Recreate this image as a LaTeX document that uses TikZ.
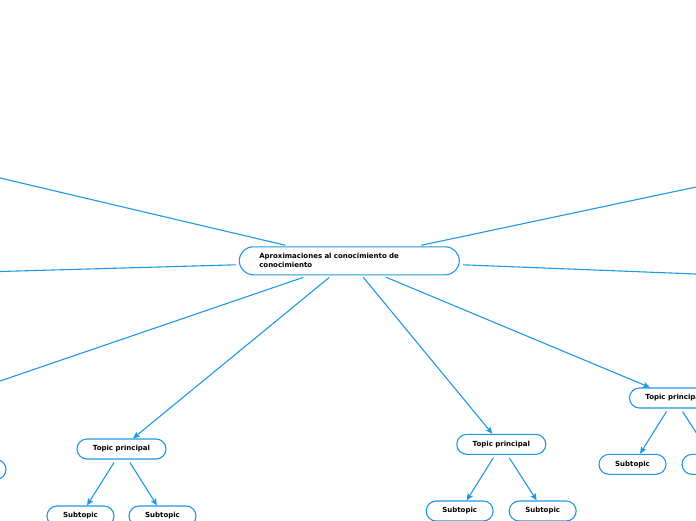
\documentclass[tikz,border=0pt]{standalone}
\usepackage{fontspec}
\setmainfont{DejaVu Sans}
\usepackage{tikz}
\usetikzlibrary{arrows.meta}
\definecolor{mapblue}{RGB}{30,152,226}

\begin{document}
\begin{tikzpicture}[x=1pt,y=-1pt,
    every node/.style={font=\fontsize{7}{9}\selectfont\bfseries},
    central/.style={draw=mapblue,line width=1.1pt,rounded corners=14pt,minimum width=220pt,minimum height=28pt,
      text width=180pt,inner xsep=20pt,align=left},
    topic/.style={draw=mapblue,line width=1.1pt,rounded corners=10pt,minimum width=89pt,minimum height=20pt,inner sep=0pt},
    subtopic/.style={topic,minimum width=67pt},
    link/.style={draw=mapblue,line width=1.1pt},
    arrowlink/.style={link,-{Stealth[length=7pt,width=6pt,inset=1.5pt]}}]
  \useasboundingbox (0,0) rectangle (696,520);
  \clip (0,0) rectangle (696,520);

  % Central topic
  \node[central] (aprox) at (349.3,260.8) {Aproximaciones al conocimiento de conocimiento};

  % Main topics
  \node[topic] (tpL) at (121.5,449) {Topic principal};
  \node[topic] (tpM) at (501.3,444.3) {Topic principal};
  \node[topic] (tpR) at (674,398) {Topic principal};

  % Subtopics
  \node[subtopic] (stX) at (-27.5,469.5) {};
  \node[subtopic] (stL1) at (80.5,516) {Subtopic};
  \node[subtopic] (stL2) at (162.5,516) {Subtopic};
  \node[subtopic] (stM1) at (459.7,511) {Subtopic};
  \node[subtopic] (stM2) at (542.7,511) {Subtopic};
  \node[subtopic] (stR1) at (632.5,464.3) {Subtopic};
  \node[subtopic] (stR2) at (715.5,464.3) {};

  % Branches leaving the frame
  \coordinate (e1) at (0,178);
  \coordinate (e2) at (0,271.5);
  \coordinate (e3) at (0,381);
  \coordinate (e5) at (696,187);
  \coordinate (e6) at (696,274);
  \draw[link] ([xshift=-64pt,yshift=1pt]aprox.north) -- (e1);
  \draw[link] ([xshift=-3pt,yshift=-4pt]aprox.west) -- (e2);
  \draw[link] ([xshift=-46pt,yshift=-2pt]aprox.south) -- (e3);
  \draw[link] ([xshift=72pt,yshift=1pt]aprox.north) -- (e5);
  \draw[link] ([xshift=3pt,yshift=-4pt]aprox.east) -- (e6);

  % Central to main topics
  \draw[arrowlink] ([xshift=-20pt,yshift=-2pt]aprox.south) -- ([xshift=11.5pt]tpL.north);
  \draw[arrowlink] ([xshift=14pt,yshift=-2pt]aprox.south) -- ([xshift=-9pt]tpM.north);
  \draw[arrowlink] ([xshift=37pt,yshift=-2pt]aprox.south) -- ([xshift=-24pt]tpR.north);

  % Main topics to subtopics
  \draw[arrowlink] ([xshift=-7.5pt,yshift=-3pt]tpL.south) -- ([xshift=6.5pt]stL1.north);
  \draw[arrowlink] ([xshift=8.5pt,yshift=-3pt]tpL.south) -- ([xshift=-5.5pt]stL2.north);
  \draw[arrowlink] ([xshift=-8pt,yshift=-3pt]tpM.south) -- ([xshift=7pt]stM1.north);
  \draw[arrowlink] ([xshift=8pt,yshift=-3pt]tpM.south) -- ([xshift=-6pt]stM2.north);
  \draw[arrowlink] ([xshift=-7.5pt,yshift=-3pt]tpR.south) -- ([xshift=7.5pt]stR1.north);
  \draw[arrowlink] ([xshift=8.5pt,yshift=-3pt]tpR.south) -- ([xshift=-5.5pt]stR2.north);
\end{tikzpicture}
\end{document}
